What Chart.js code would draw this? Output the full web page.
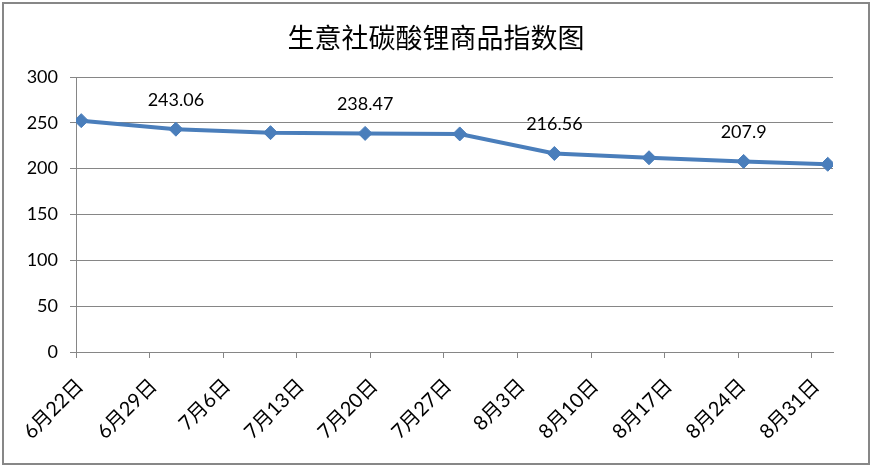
<!DOCTYPE html>
<html>
<head>
<meta charset="utf-8">
<script src="https://cdn.jsdelivr.net/npm/chart.js@4.4.0/dist/chart.umd.min.js"></script>
<style>
  html, body { margin: 0; padding: 0; background: #ffffff; }
  #wrap { width: 872px; height: 467px; position: relative; }
</style>
</head>
<body>
<div id="wrap"><canvas id="c" width="872" height="467"></canvas></div>
<script>
// ---- data ----
const chartTitle = '生意社碳酸锂商品指数图';
const tickLabels = ['6月22日','6月29日','7月6日','7月13日','7月20日','7月27日','8月3日','8月10日','8月17日','8月24日','8月31日'];
const tickDays = [0, 7, 14, 21, 28, 35, 42, 49, 56, 63, 70];   // days after 6月22日
const pointDates = ['6-22','7-1','7-10','7-19','7-28','8-6','8-15','8-24','9-1'];
const indexValues = [252.4, 243.06, 239.3, 238.47, 237.9, 216.56, 211.9, 207.9, 204.8];
const labelledPoints = [1, 3, 5, 7];
const yTicks = [0, 50, 100, 150, 200, 250, 300];

// day offset (centre of the day, as on a date axis)
function dayOffset(md) {
  const [m, d] = md.split('-').map(Number);
  const base = Date.UTC(2020, 5, 22);
  return (Date.UTC(2020, m - 1, d) - base) / 86400000 + 0.5;
}
const points = pointDates.map((d, i) => ({ x: dayOffset(d), y: indexValues[i] }));

const LINE = '#4A7EBB';
const GRID = '#868686';
const FONT = "Lato, 'Noto Sans CJK SC', sans-serif";

const frame = {
  id: 'frame',
  beforeDraw(chart) {
    const ctx = chart.ctx;
    ctx.save();
    ctx.fillStyle = '#fff';
    ctx.fillRect(0, 0, chart.width, chart.height);
    ctx.strokeStyle = '#878787';
    ctx.lineWidth = 2;
    ctx.strokeRect(3, 3, 866, 461);
    ctx.restore();
  }
};

const valueLabels = {
  id: 'valueLabels',
  afterDatasetsDraw(chart) {
    const ctx = chart.ctx;
    const meta = chart.getDatasetMeta(0);
    ctx.save();
    ctx.font = "18px " + FONT;
    ctx.fillStyle = '#000';
    ctx.textAlign = 'center';
    ctx.textBaseline = 'middle';
    labelledPoints.forEach(i => {
      const el = meta.data[i];
      ctx.fillText(String(indexValues[i]), el.x, el.y - 29);
    });
    ctx.restore();
  }
};

new Chart(document.getElementById('c'), {
  type: 'line',
  data: {
    datasets: [{
      data: points,
      borderColor: LINE,
      borderWidth: 4,
      backgroundColor: '#4F81BD',
      pointStyle: 'rectRot',
      pointRadius: 7,
      pointHoverRadius: 7,
      pointBackgroundColor: '#4A7EBB',
      pointBorderColor: '#4A7EBB',
      pointBorderWidth: 1,
      tension: 0,
      fill: false
    }]
  },
  options: {
    responsive: false,
    animation: false,
    events: [],
    layout: { padding: { left: 0, right: 0, top: 22, bottom: 0 } },
    plugins: {
      legend: { display: false },
      tooltip: { enabled: false },
      title: {
        display: true,
        text: chartTitle,
        color: '#000',
        font: { family: "'Noto Sans CJK SC', sans-serif", size: 27, weight: 'normal', lineHeight: 1.2 },
        padding: { top: 0, bottom: 22.6 }
      }
    },
    scales: {
      x: {
        type: 'linear',
        min: 0,
        max: 72,
        afterBuildTicks(axis) { axis.ticks = tickDays.map(v => ({ value: v })); },
        afterFit(axis) { axis.height = 115; },
        ticks: {
          autoSkip: false,
          minRotation: 45,
          maxRotation: 45,
          padding: 16,
          labelOffset: 4,
          color: '#000',
          font: { family: FONT, size: 20 },
          callback(value) { const i = tickDays.indexOf(value); return i >= 0 ? tickLabels[i] : ''; }
        },
        grid: { drawOnChartArea: false, drawTicks: true, tickLength: 6, color: GRID, lineWidth: 1 },
        border: { display: true, color: GRID, width: 1 }
      },
      y: {
        min: 0,
        max: 300,
        afterBuildTicks(axis) { axis.ticks = yTicks.map(v => ({ value: v })); },
        afterFit(axis) { axis.width = 76; },
        ticks: {
          padding: 12,
          color: '#000',
          font: { family: FONT, size: 18 }
        },
        grid: { color: GRID, lineWidth: 1, tickLength: 6, drawTicks: true },
        border: { display: true, color: GRID, width: 1 }
      },
      spacer: {
        type: 'linear',
        position: 'right',
        display: true,
        afterFit(axis) { axis.width = 39; },
        ticks: { display: false },
        grid: { display: false, drawOnChartArea: false },
        border: { display: false }
      }
    }
  },
  plugins: [frame, valueLabels]
});
</script>
</body>
</html>
